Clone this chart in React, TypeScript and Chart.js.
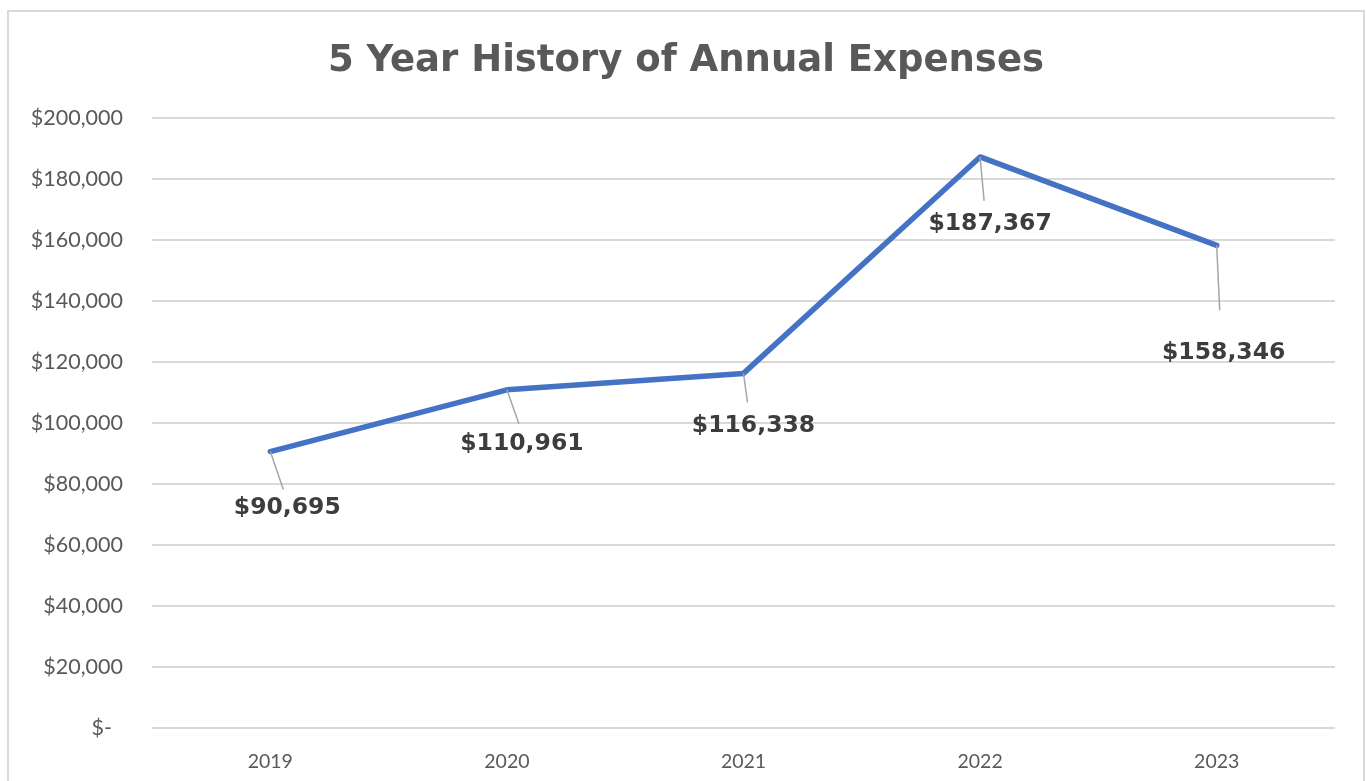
import React, { useEffect, useRef } from "react";
import { Chart, registerables } from "chart.js";

Chart.register(...registerables);

const years = ["2019", "2020", "2021", "2022", "2023"];
const expenses = [90695, 110961, 116338, 187367, 158346];
const yTicks = [0, 20000, 40000, 60000, 80000, 100000, 120000, 140000, 160000, 180000, 200000];
const titleText = "5 Year History of Annual Expenses";

// label placement relative to each point (style, px): [leaderDx, leaderDy, labelDx, labelDy]
const labelOffsets = [
  [13, 38, 17, 56],
  [12, 34, 15, 54],
  [4, 29, 10, 52],
  [4, 44, 10, 67],
  [3, 65, 7, 108],
];

const fmtMoney = (v: number) => (v === 0 ? "$-  " : "$" + v.toLocaleString("en-US"));

const frame = {
  id: "frame",
  afterLayout(chart: any) {
    const t = chart.titleBlock;
    if (t) {
      t.left = 37;
      t.right = 1335;
      t.width = t.right - t.left;
    }
  },
  beforeDraw(chart: any) {
    const ctx = chart.ctx;
    ctx.save();
    ctx.fillStyle = "#ffffff";
    ctx.fillRect(0, 0, chart.width, chart.height);
    ctx.strokeStyle = "#d9d9d9";
    ctx.lineWidth = 2;
    ctx.strokeRect(8, 11, 1356, 790);
    ctx.restore();
  },
};

const dataLabels = {
  id: "dataLabels",
  afterDatasetsDraw(chart: any) {
    const ctx = chart.ctx;
    const meta = chart.getDatasetMeta(0);
    ctx.save();
    meta.data.forEach((pt: any, i: number) => {
      const [ldx, ldy] = labelOffsets[i];
      ctx.strokeStyle = "#a6a6a6";
      ctx.lineWidth = 1.5;
      ctx.beginPath();
      ctx.moveTo(pt.x, pt.y);
      ctx.lineTo(pt.x + ldx, pt.y + ldy);
      ctx.stroke();
    });
    ctx.font = "bold 23.5px 'DejaVu Sans', sans-serif";
    ctx.fillStyle = "#3d3d3d";
    ctx.textAlign = "center";
    ctx.textBaseline = "middle";
    meta.data.forEach((pt: any, i: number) => {
      const [, , tdx, tdy] = labelOffsets[i];
      ctx.fillText(fmtMoney(expenses[i]), pt.x + tdx, pt.y + tdy);
    });
    ctx.restore();
  },
};

export default function App() {
  const ref = useRef<HTMLCanvasElement | null>(null);
  useEffect(() => {
    document.body.style.margin = "0";
    if (!ref.current) return;
    const chart = new Chart(ref.current, {
      type: "line",
      data: {
        labels: years,
        datasets: [
          {
            data: expenses,
            borderColor: "#4472C4",
            backgroundColor: "#4472C4",
            borderWidth: 5.5,
            pointRadius: 0,
            tension: 0,
            borderCapStyle: "round",
            borderJoinStyle: "round",
          },
        ],
      },
      options: {
        animation: false,
        responsive: false,
        maintainAspectRatio: false,
        layout: { padding: { left: 0, right: 31, top: 0, bottom: 0 } },
        plugins: {
          legend: { display: false },
          tooltip: { enabled: false },
          title: {
            display: true,
            text: titleText,
            color: "#595959",
            font: { family: "'DejaVu Sans', sans-serif", size: 37, weight: "bold", lineHeight: 1.2 },
            padding: { top: 39, bottom: 35 },
          },
        },
        scales: {
          x: {
            offset: true,
            grid: { display: false, drawTicks: false },
            border: { display: false },
            ticks: { color: "#595959", font: { family: "Lato", size: 19.5 }, padding: 22 },
            afterFit: (s: any) => { s.height = 53; },
          },
          y: {
            min: 0,
            max: 200000,
            afterBuildTicks: (s: any) => { s.ticks = yTicks.map((v) => ({ value: v })); },
            grid: { color: "#d9d9d9", lineWidth: 2, drawTicks: false },
            border: { display: false },
            ticks: {
              color: "#595959",
              font: { family: "Lato", size: 21.5 },
              padding: 29,
              callback: (v: any) => fmtMoney(Number(v)),
            },
            afterFit: (s: any) => { s.width = 152; },
          },
        },
      },
      plugins: [frame, dataLabels],
    } as any);
    return () => chart.destroy();
  }, []);
  return (
    <div style={{ width: 1366, height: 781 }}>
      <canvas ref={ref} width={1366} height={781} style={{ display: "block" }} />
    </div>
  );
}
